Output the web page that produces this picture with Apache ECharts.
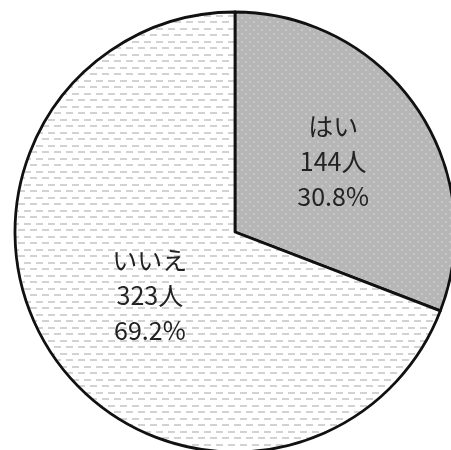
<!DOCTYPE html>
<html>
<head>
<meta charset="utf-8">
<script src="https://cdn.jsdelivr.net/npm/echarts@6/dist/echarts.min.js"></script>
<style>html,body{margin:0;padding:0;background:#fff;}#c{width:451px;height:450px;}</style>
</head>
<body>
<div id="c"></div>
<script>
var categories = ['はい', 'いいえ'];
var counts = [144, 323];
var percents = ['30.8%', '69.2%'];

function makeDash() {
  var cv = document.createElement('canvas');
  cv.width = 12; cv.height = 13;
  var g = cv.getContext('2d');
  g.fillStyle = '#ffffff'; g.fillRect(0, 0, 12, 13);
  g.fillStyle = '#d2d2d2';
  g.fillRect(0, 2, 7, 2);
  g.fillRect(6, 8, 7, 2);
  g.fillRect(0, 8, 1, 2);
  return cv;
}
function makeDots() {
  var cv = document.createElement('canvas');
  cv.width = 8; cv.height = 8;
  var g = cv.getContext('2d');
  g.fillStyle = '#b6b6b6'; g.fillRect(0, 0, 8, 8);
  g.fillStyle = '#c8c8c8';
  g.fillRect(1, 1, 2, 2);
  g.fillRect(5, 5, 2, 2);
  return cv;
}
var fills = [
  {image: makeDots(), repeat: 'repeat'},
  {image: makeDash(), repeat: 'repeat'}
];
var labelShift = [[5, -7], [8, 0]];

var data = categories.map(function (c, i) {
  return {
    name: c,
    value: counts[i],
    itemStyle: {color: fills[i]},
    label: {formatter: c + '\n' + counts[i] + '人\n' + percents[i], offset: labelShift[i]}
  };
});

var chart = echarts.init(document.getElementById('c'));
chart.setOption({
  animation: false,
  series: [{
    type: 'pie',
    center: [235, 232],
    radius: 220,
    startAngle: 90,
    clockwise: true,
    silent: true,
    data: data,
    itemStyle: {borderColor: '#111', borderWidth: 2.8},
    label: {
      show: true,
      position: 'inside',
      color: '#222',
      fontSize: 25,
      lineHeight: 35,
      fontFamily: '"Noto Sans CJK JP", sans-serif',
      align: 'center'
    },
    labelLine: {show: false}
  }]
});
</script>
</body>
</html>
